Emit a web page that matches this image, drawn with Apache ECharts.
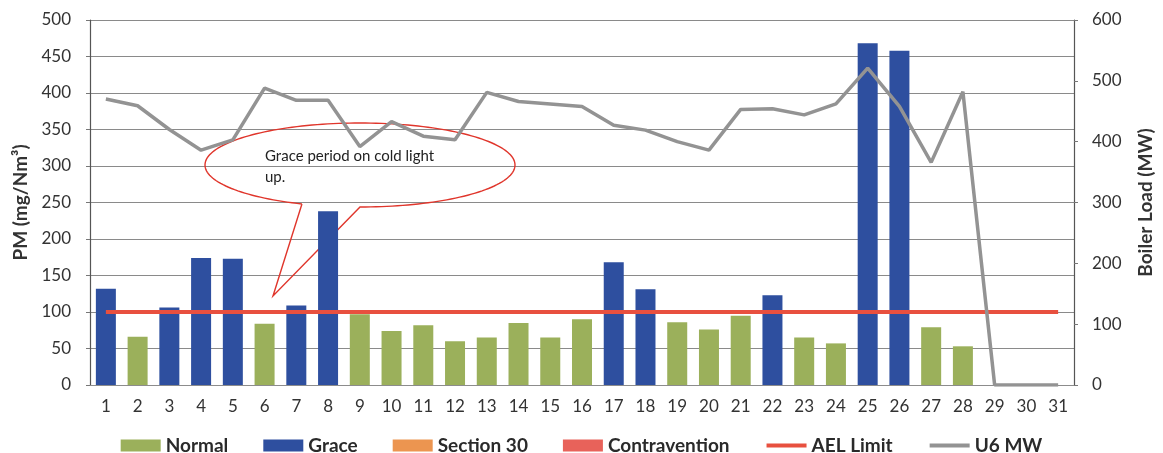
<!DOCTYPE html>
<html>
<head>
<meta charset="utf-8">
<script src="https://cdn.jsdelivr.net/npm/echarts@6/dist/echarts.min.js"></script>
<style>
  html, body { margin: 0; padding: 0; background: #ffffff; }
  #chart { width: 1163px; height: 453px; }
</style>
</head>
<body>
<div id="chart"></div>
<script>
// Day of month
const days = ['1','2','3','4','5','6','7','8','9','10','11','12','13','14','15','16',
  '17','18','19','20','21','22','23','24','25','26','27','28','29','30','31'];

// Daily PM emission (mg/Nm³) by operating status
const normalPM = ['-', 66, '-', '-', '-', 84, '-', '-', 97, 74, 82, 60, 65, 85, 65, 90,
  '-', '-', 86, 76, 95, '-', 65, 57, '-', '-', 79, 53, '-', '-', '-'];
const gracePM = [132, '-', 106, 174, 173, '-', 109, 238, '-', '-', '-', '-', '-', '-', '-', '-',
  168, 131, '-', '-', '-', 123, '-', '-', 468, 458, '-', '-', '-', '-', '-'];
const section30PM = [];
const contraventionPM = [];

// Emission limit (mg/Nm³)
const aelLimit = [100, 100, 100, 100, 100, 100, 100, 100, 100, 100, 100, 100, 100, 100, 100, 100,
  100, 100, 100, 100, 100, 100, 100, 100, 100, 100, 100, 100, 100, 100, 100];

// Unit 6 boiler load (MW)
const u6MW = [470, 459, 420, 386, 403, 488, 468, 468, 392, 433, 409, 403, 481, 466, 462, 458,
  427, 419, 400, 386, 453, 454, 444, 462, 521, 458, 366, 482, 0, 0, 0];

const FONT = 'Lato, "Open Sans", sans-serif';
const TXT = '#333333';

// Speech-bubble note: ellipse outline opened at the bottom where the pointer joins
const bubble = { cx: 360, cy: 165, rx: 155, ry: 42, tip: [273, 296], openFrom: 90, openTo: 112 };
function bubbleOutline(b) {
  const pts = [];
  for (let a = b.openTo; a <= 360 + b.openFrom; a += 2) {
    const t = a * Math.PI / 180;
    pts.push([b.cx + b.rx * Math.cos(t), b.cy + b.ry * Math.sin(t)]);
  }
  pts.push(b.tip.slice());
  pts.push(pts[0].slice());
  return pts;
}

const chart = echarts.init(document.getElementById('chart'), null, { renderer: 'canvas' });

chart.setOption({
  backgroundColor: '#ffffff',
  animation: false,
  textStyle: { fontFamily: FONT },
  grid: { left: 90, right: 86, top: 20, bottom: 68, containLabel: false },
  legend: {
    left: 'center',
    top: 431,
    itemWidth: 40,
    itemHeight: 12,
    itemGap: 35,
    textStyle: { fontFamily: FONT, fontSize: 19, fontWeight: 'bold', color: '#2a2a2a' },
    data: [
      { name: 'Normal', icon: 'rect' },
      { name: 'Grace', icon: 'rect' },
      { name: 'Section 30', icon: 'rect' },
      { name: 'Contravention', icon: 'rect' },
      { name: 'AEL Limit', itemStyle: { opacity: 0 }, lineStyle: { width: 4 } },
      { name: 'U6 MW', itemStyle: { opacity: 0 }, lineStyle: { width: 4 } }
    ]
  },
  xAxis: {
    type: 'category',
    data: days,
    boundaryGap: true,
    axisLine: { show: true, lineStyle: { color: '#8c8c8c', width: 1 } },
    axisTick: { show: false },
    axisLabel: { fontFamily: FONT, fontSize: 17, color: TXT, margin: 13 },
    splitLine: { show: false }
  },
  yAxis: [
    {
      type: 'value',
      min: 0, max: 500, interval: 50,
      name: 'PM (mg/Nm³)',
      nameLocation: 'middle',
      nameRotate: 90,
      nameGap: 55,
      nameTextStyle: { fontFamily: FONT, fontSize: 19, fontWeight: 'bold', color: TXT },
      axisLine: { show: true, lineStyle: { color: '#555555', width: 1.2 } },
      axisTick: { show: true, length: 4, lineStyle: { color: '#777777' } },
      axisLabel: { fontFamily: FONT, fontSize: 17, color: TXT, margin: 19 },
      splitLine: { show: true, lineStyle: { color: '#8a8a8a', width: 1 } }
    },
    {
      type: 'value',
      min: 0, max: 600, interval: 100,
      name: 'Boiler Load (MW)',
      nameLocation: 'middle',
      nameRotate: 90,
      nameGap: 62,
      nameTextStyle: { fontFamily: FONT, fontSize: 19, fontWeight: 'bold', color: TXT },
      position: 'right',
      axisLine: { show: true, lineStyle: { color: '#555555', width: 1.2 } },
      axisTick: { show: true, length: 4, lineStyle: { color: '#777777' } },
      axisLabel: { fontFamily: FONT, fontSize: 17, color: TXT, margin: 18 },
      splitLine: { show: false }
    }
  ],
  graphic: [
    {
      type: 'polyline',
      z: 1,
      shape: { points: bubbleOutline(bubble) },
      style: { stroke: '#e0362c', lineWidth: 1.4, fill: null }
    },
    {
      type: 'text',
      z: 1,
      left: 265,
      top: 146,
      style: {
        text: 'Grace period on cold light\nup.',
        font: '15px ' + FONT,
        fill: '#222222',
        lineHeight: 21
      }
    }
  ],
  series: [
    {
      name: 'Normal', type: 'bar', yAxisIndex: 0, data: normalPM,
      barWidth: 20, barGap: '-100%',
      itemStyle: { color: '#9bb05b' }, z: 2
    },
    {
      name: 'Grace', type: 'bar', yAxisIndex: 0, data: gracePM,
      barWidth: 20, barGap: '-100%',
      itemStyle: { color: '#2e4f9f' }, z: 2
    },
    {
      name: 'Section 30', type: 'bar', yAxisIndex: 0, data: section30PM,
      barWidth: 20, barGap: '-100%',
      itemStyle: { color: '#ec9550' }, z: 2
    },
    {
      name: 'Contravention', type: 'bar', yAxisIndex: 0, data: contraventionPM,
      barWidth: 20, barGap: '-100%',
      itemStyle: { color: '#e8625a' }, z: 2
    },
    {
      name: 'AEL Limit', type: 'line', yAxisIndex: 0, data: aelLimit,
      symbol: 'none', z: 3,
      itemStyle: { color: '#e8503f' },
      lineStyle: { color: '#e8503f', width: 4 }
    },
    {
      name: 'U6 MW', type: 'line', yAxisIndex: 1, data: u6MW,
      symbol: 'none', z: 4,
      itemStyle: { color: '#939393' },
      lineStyle: { color: '#939393', width: 3.5 }
    }
  ]
});
</script>
</body>
</html>
